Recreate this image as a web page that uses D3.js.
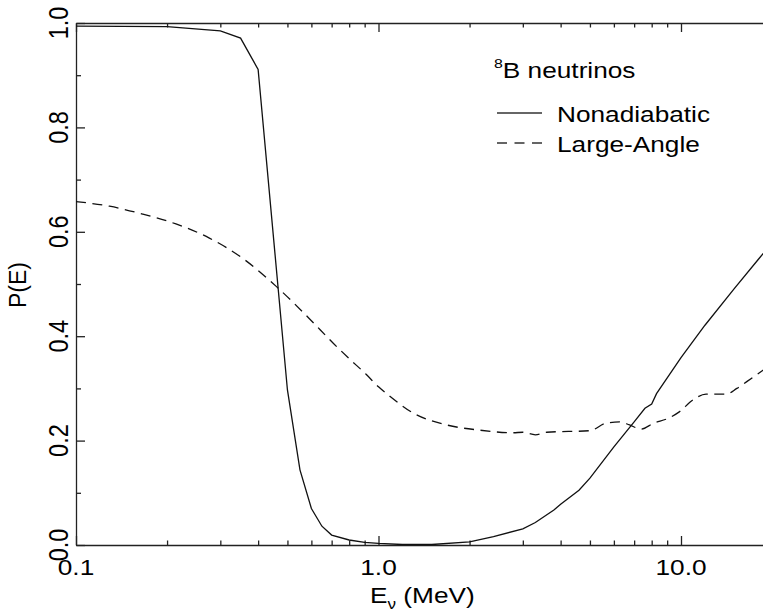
<!DOCTYPE html>
<html lang="en">
<head>
    <meta charset="utf-8">
    <title>P(E)</title>
    <script src="https://d3js.org/d3.v7.min.js"></script>
    <style>
        body { margin: 0; background: #fff; }
        text { font-family: "Liberation Sans", Arial, sans-serif; fill: #000; }
    </style>
</head>
<body>
<svg width="763" height="616"></svg>
<script>
    // 数据（从图上读出来的）
    var nonadE = [0.1, 0.2, 0.3, 0.35, 0.4, 0.5, 0.55, 0.6, 0.65, 0.7, 0.8, 0.9, 1.0, 1.2, 1.5, 2.0, 2.4, 3.0, 3.3, 3.8, 4.0, 4.6, 5.0, 6.0, 7.0, 7.6, 8.0, 8.3, 8.9, 10, 12, 15, 18, 20];
    var nonadP = [0.994, 0.993, 0.985, 0.971, 0.911, 0.297, 0.144, 0.070, 0.036, 0.019, 0.0096, 0.005, 0.003, 0.001, 0.001, 0.006, 0.016, 0.031, 0.043, 0.067, 0.078, 0.105, 0.128, 0.188, 0.236, 0.262, 0.270, 0.290, 0.316, 0.359, 0.421, 0.491, 0.547, 0.579];

    var laE = [0.1, 0.129, 0.166, 0.214, 0.276, 0.356, 0.46, 0.59, 0.71, 0.80, 0.91, 1.0, 1.09, 1.30, 1.68, 2.16, 2.78, 3.0, 3.3, 3.6, 5.0, 5.63, 6.26, 6.76, 7.38, 8.1, 9.1, 9.87, 10.96, 12.1, 14.1, 15.3, 16.5, 18.7];
    var laP = [0.658, 0.649, 0.634, 0.615, 0.588, 0.549, 0.495, 0.434, 0.386, 0.357, 0.327, 0.303, 0.285, 0.253, 0.230, 0.220, 0.215, 0.216, 0.211, 0.216, 0.219, 0.233, 0.236, 0.230, 0.222, 0.233, 0.243, 0.255, 0.278, 0.289, 0.289, 0.300, 0.313, 0.335];

    var xMajor = [0.1, 1, 10];
    var xTickLabels = ["0.1", "1.0", "10.0"];
    var xMinor = [0.2, 0.3, 0.4, 0.5, 0.6, 0.7, 0.8, 0.9, 2, 3, 4, 5, 6, 7, 8, 9, 20];
    var yMajor = [0, 0.2, 0.4, 0.6, 0.8, 1.0];
    var yTickLabels = ["0.0", "0.2", "0.4", "0.6", "0.8", "1.0"];
    var yMinor = [0.1, 0.3, 0.5, 0.7, 0.9];

    var seriesNames = ["Nonadiabatic", "Large-Angle"];

    var svg = d3.select("svg");
    var marge = {left: 76, top: 23, bottom: 545, right: 763};

    var x = d3.scaleLog()
        .domain([0.1, 20])
        .range([marge.left, marge.left + 302.5 * Math.log10(200)]);
    var y = d3.scaleLinear()
        .domain([0, 1])
        .range([marge.bottom, marge.top]);

    // 字体被横向拉宽了一点
    var sx = 1.22;

    svg.append("clipPath").attr("id", "clip")
        .append("rect")
        .attr("x", marge.left).attr("y", 0)
        .attr("width", marge.right - marge.left).attr("height", marge.bottom + 1);

    //坐标轴
    function styleAxis(g) {
        g.selectAll("path, line").attr("stroke", "#222").attr("stroke-width", 1.3);
        g.selectAll("text").remove();
    }
    svg.append("g").attr("transform", "translate(0," + marge.bottom + ")")
        .call(d3.axisBottom(x).tickValues(xMajor).tickSize(-9).tickSizeOuter(0).tickFormat(""))
        .call(styleAxis);
    svg.append("g").attr("transform", "translate(0," + marge.bottom + ")")
        .call(d3.axisBottom(x).tickValues(xMinor).tickSize(-4.5).tickSizeOuter(0).tickFormat(""))
        .call(styleAxis).select(".domain").remove();
    svg.append("g").attr("transform", "translate(0," + marge.top + ")")
        .call(d3.axisTop(x).tickValues(xMajor).tickSize(-9).tickSizeOuter(0).tickFormat(""))
        .call(styleAxis);
    svg.append("g").attr("transform", "translate(0," + marge.top + ")")
        .call(d3.axisTop(x).tickValues(xMinor).tickSize(-4.5).tickSizeOuter(0).tickFormat(""))
        .call(styleAxis).select(".domain").remove();
    svg.append("g").attr("transform", "translate(" + marge.left + ",0)")
        .call(d3.axisLeft(y).tickValues(yMajor).tickSize(-9).tickSizeOuter(0).tickFormat(""))
        .call(styleAxis);
    svg.append("g").attr("transform", "translate(" + marge.left + ",0)")
        .call(d3.axisLeft(y).tickValues(yMinor).tickSize(-5).tickSizeOuter(0).tickFormat(""))
        .call(styleAxis).select(".domain").remove();

    //刻度文字
    svg.selectAll(".xlab")
        .data(xMajor)
        .enter()
        .append("text")
        .attr("class", "xlab")
        .attr("text-anchor", "middle")
        .attr("font-size", 21.5)
        .attr("transform", function(d){ return "translate(" + x(d) + ",575) scale(" + sx + ",1)"; })
        .text(function(d, i){ return xTickLabels[i]; });

    svg.selectAll(".ylab")
        .data(yMajor)
        .enter()
        .append("text")
        .attr("class", "ylab")
        .attr("text-anchor", "middle")
        .attr("font-size", 23.5)
        .attr("transform", function(d){ return "translate(68," + y(d) + ") rotate(-90) scale(1,1.2)"; })
        .text(function(d, i){ return yTickLabels[i]; });

    //坐标轴标题
    var xt = svg.append("text")
        .attr("font-size", 21.5)
        .attr("transform", "translate(370,603) scale(" + sx + ",1)");
    xt.append("tspan").text("E");
    xt.append("tspan").attr("font-size", 14).attr("dy", 6).text("ν");
    xt.append("tspan").attr("dy", -6).text(" (MeV)");

    svg.append("text")
        .attr("text-anchor", "middle")
        .attr("font-size", 23)
        .attr("transform", "translate(26,285) rotate(-90)")
        .text("P(E)");

    //曲线
    var line = d3.line()
        .x(function(d){ return x(d[0]); })
        .y(function(d){ return y(d[1]); });
    var smoothLine = d3.line()
        .x(function(d){ return x(d[0]); })
        .y(function(d){ return y(d[1]); })
        .curve(d3.curveMonotoneX);

    var plot = svg.append("g").attr("clip-path", "url(#clip)");
    plot.append("path")
        .datum(d3.zip(nonadE, nonadP))
        .attr("d", line)
        .attr("fill", "none")
        .attr("stroke", "#111")
        .attr("stroke-width", 1.3);
    plot.append("path")
        .datum(d3.zip(laE, laP))
        .attr("d", smoothLine)
        .attr("fill", "none")
        .attr("stroke", "#111")
        .attr("stroke-width", 1.3)
        .attr("stroke-dasharray", "10,6.5");

    //图例
    var lt = svg.append("text")
        .attr("font-size", 21.5)
        .attr("transform", "translate(494,78) scale(" + sx + ",1)");
    lt.append("tspan").attr("font-size", 13).attr("dy", -10).text("8");
    lt.append("tspan").attr("dy", 10).text("B neutrinos");

    var legend = svg.selectAll(".leg")
        .data(seriesNames)
        .enter()
        .append("g")
        .attr("class", "leg")
        .attr("transform", function(d, i){ return "translate(0," + (113 + i * 30) + ")"; });
    legend.append("line")
        .attr("x1", 497).attr("x2", 542)
        .attr("stroke", "#333")
        .attr("stroke-width", 1.3)
        .attr("stroke-dasharray", function(d, i){ return i == 0 ? null : "10,7.5"; });
    legend.append("text")
        .attr("font-size", 21.5)
        .attr("transform", "translate(557,9) scale(" + sx + ",1)")
        .text(function(d){ return d; });
</script>
</body>
</html>
